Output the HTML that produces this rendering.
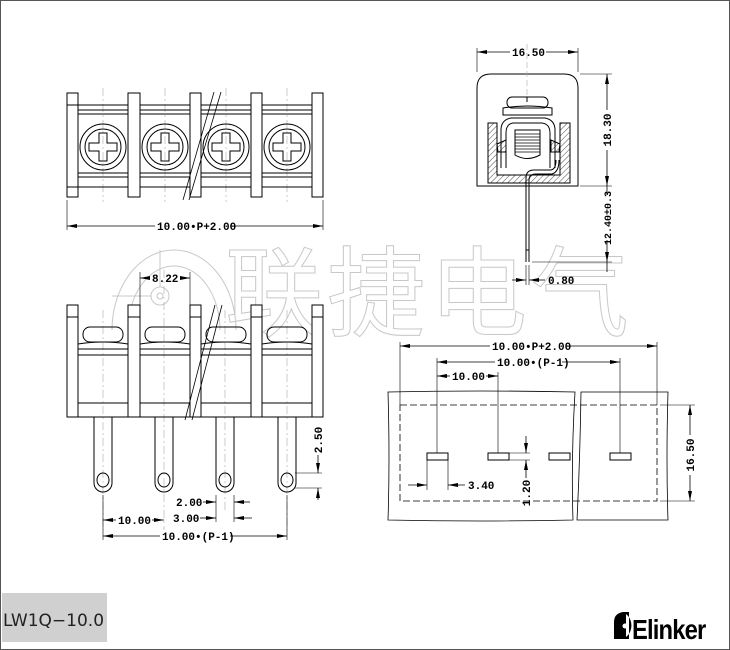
<!DOCTYPE html>
<html><head><meta charset="utf-8"><style>
html,body{margin:0;padding:0;background:#fff}
svg{display:block}
text{font-family:"Liberation Mono",monospace;font-weight:bold;font-size:11px;fill:#000}
</style></head><body>
<svg width="730" height="650" viewBox="0 0 730 650" xmlns="http://www.w3.org/2000/svg">
<defs>
<marker id="a" viewBox="0 0 10 6" refX="10" refY="3" markerWidth="10" markerHeight="6" orient="auto-start-reverse" markerUnits="userSpaceOnUse"><path d="M0,1 L10,3 L0,5 z" fill="#000"/></marker>
<pattern id="h" width="4" height="4" patternUnits="userSpaceOnUse" patternTransform="rotate(45)"><line x1="0" y1="0" x2="0" y2="4" stroke="#000" stroke-width="0.7"/></pattern>
</defs>
<rect x="0.5" y="0.5" width="729" height="649" fill="none" stroke="#555"/>

<!-- watermark -->
<g fill="none" stroke="#c8c8c8" stroke-width="1">
<path d="M112,330 A62,80 0 0 1 236,330"/>
<path d="M128,330 A46,64 0 0 1 220,330"/>
<circle cx="160" cy="296" r="9"/><circle cx="160" cy="296" r="3"/>
<line x1="160" y1="250" x2="160" y2="287"/><line x1="112" y1="296" x2="151" y2="296"/>
</g>
<text x="225" y="328" style="font-family:'Noto Sans CJK SC',sans-serif;font-size:98px;font-weight:normal;fill:none;stroke:#c8c8c8;stroke-width:1;letter-spacing:4px">联捷电气</text>

<g fill="none" stroke="#000" stroke-width="1">
<!-- TOP VIEW -->
<g stroke="#aaa" stroke-dasharray="8,3,2,3" stroke-width="0.6">
<line x1="103" y1="88" x2="103" y2="202"/><line x1="165" y1="88" x2="165" y2="202"/>
<line x1="226" y1="88" x2="226" y2="202"/><line x1="287" y1="88" x2="287" y2="202"/>
</g>
<rect x="78" y="105" width="234" height="82"/>
<line x1="78" y1="110" x2="312" y2="110"/><line x1="78" y1="177" x2="312" y2="177"/>
<line x1="78" y1="114" x2="312" y2="114"/><line x1="78" y1="173" x2="312" y2="173"/>
<g id="scr">
<circle cx="103" cy="147" r="23"/><circle cx="103" cy="147" r="18"/>
<path d="M99,133 h8 v10 h10 v8 h-10 v10 h-8 v-10 h-10 v-8 h10 z"/>
</g>
<use href="#scr" x="62"/><use href="#scr" x="123"/><use href="#scr" x="184"/>
<g fill="#fff">
<rect x="67" y="93" width="11" height="104"/><rect x="128" y="93" width="12" height="104"/>
<rect x="190" y="93" width="11" height="104"/><rect x="251" y="93" width="11" height="104"/>
<rect x="312" y="93" width="11" height="104"/>
</g>
<line x1="67" y1="105" x2="78" y2="105"/><line x1="67" y1="187" x2="78" y2="187"/>
<line x1="214" y1="92" x2="183" y2="200" stroke-width="0.8"/><line x1="221" y1="92" x2="189" y2="200" stroke-width="0.8"/>
<line x1="67" y1="200" x2="67" y2="230" stroke-width="0.6"/><line x1="323" y1="200" x2="323" y2="230" stroke-width="0.6"/>
<line x1="67" y1="226" x2="155" y2="226" marker-start="url(#a)" stroke-width="0.8"/>
<line x1="230" y1="226" x2="323" y2="226" marker-end="url(#a)" stroke-width="0.8"/>

<!-- FRONT VIEW -->
<g stroke="#aaa" stroke-dasharray="8,3,2,3" stroke-width="0.6">
<line x1="103" y1="310" x2="103" y2="530"/><line x1="164" y1="270" x2="164" y2="530"/>
<line x1="225" y1="310" x2="225" y2="510"/><line x1="287" y1="310" x2="287" y2="530"/>
</g>
<rect x="78" y="355" width="234" height="62"/>
<line x1="78" y1="403" x2="312" y2="403"/>
<g id="cap">
<rect x="83" y="327" width="40" height="15" rx="7"/>
<path d="M78,344 Q103,340 128,344 L128,355 M78,349 L128,349"/>
</g>
<use href="#cap" x="62"/><use href="#cap" x="123"/><use href="#cap" x="184"/>
<g fill="#fff">
<rect x="67" y="305" width="11" height="112"/><rect x="128" y="305" width="12" height="112"/>
<rect x="190" y="305" width="11" height="112"/><rect x="251" y="305" width="11" height="112"/>
<rect x="312" y="305" width="11" height="112"/>
</g>
<line x1="67" y1="317" x2="78" y2="317"/><line x1="128" y1="317" x2="140" y2="317"/><line x1="190" y1="317" x2="201" y2="317"/><line x1="251" y1="317" x2="262" y2="317"/><line x1="312" y1="317" x2="323" y2="317"/>
<line x1="215" y1="305" x2="185" y2="420" stroke-width="0.8"/><line x1="222" y1="305" x2="192" y2="420" stroke-width="0.8"/>
<g id="pin">
<path d="M94,417 V483 A9,9 0 0 0 112,483 V417"/>
<ellipse cx="103" cy="480" rx="6" ry="7"/>
</g>
<use href="#pin" x="61"/><use href="#pin" x="122"/><use href="#pin" x="184"/>
<g stroke-width="0.6">
<line x1="140" y1="272" x2="140" y2="330"/><line x1="190" y1="272" x2="190" y2="305"/>
<line x1="295" y1="473" x2="322" y2="473"/><line x1="295" y1="488" x2="322" y2="488"/>
<line x1="216" y1="495" x2="216" y2="522"/><line x1="234" y1="495" x2="234" y2="522"/>
<line x1="103" y1="495" x2="103" y2="540"/><line x1="287" y1="495" x2="287" y2="540"/>
</g>
<line x1="140" y1="278" x2="150" y2="278" marker-start="url(#a)" stroke-width="0.8"/>
<line x1="180" y1="278" x2="190" y2="278" marker-end="url(#a)" stroke-width="0.8"/>
<line x1="318" y1="455" x2="318" y2="473" marker-end="url(#a)" stroke-width="0.8"/>
<line x1="318" y1="488" x2="318" y2="500" marker-start="url(#a)" stroke-width="0.8"/>
<line x1="203" y1="502" x2="216" y2="502" marker-end="url(#a)" stroke-width="0.8"/>
<line x1="234" y1="502" x2="250" y2="502" marker-start="url(#a)" stroke-width="0.8"/>
<line x1="200" y1="518" x2="216" y2="518" marker-end="url(#a)" stroke-width="0.8"/>
<line x1="234" y1="518" x2="252" y2="518" marker-start="url(#a)" stroke-width="0.8"/>
<line x1="103" y1="520" x2="116" y2="520" marker-start="url(#a)" stroke-width="0.8"/>
<line x1="152" y1="520" x2="164" y2="520" marker-end="url(#a)" stroke-width="0.8"/>
<line x1="103" y1="536" x2="160" y2="536" marker-start="url(#a)" stroke-width="0.8"/>
<line x1="230" y1="536" x2="287" y2="536" marker-end="url(#a)" stroke-width="0.8"/>

<!-- SIDE VIEW -->
<path d="M477,186 V88 Q477,74 491,74 H564 Q578,74 578,88 V186 Z"/>
<line x1="527" y1="44" x2="527" y2="96" stroke="#aaa" stroke-width="0.6" stroke-dasharray="6,3"/>
<rect x="507" y="97" width="41" height="11" rx="5"/>
<line x1="527" y1="97" x2="527" y2="102"/>
<path d="M503,108 Q527,104 552,108 V115 H503 Z"/>
<path d="M488,123 H497 V175 H560 V123 H570 V183 H488 Z" fill="url(#h)"/>
<path d="M501,168 V130 Q501,120 511,118 H545 Q555,120 555,130 V168"/>
<path d="M506,168 V133 Q506,124 513,123 H542 Q550,124 550,133 V168"/>
<path d="M515,130 H540 V155 Q527,162 515,155 Z"/>
<g stroke-width="0.8"><line x1="515" y1="134" x2="540" y2="134"/><line x1="515" y1="137" x2="540" y2="137"/><line x1="515" y1="140" x2="540" y2="140"/><line x1="515" y1="143" x2="540" y2="143"/><line x1="515" y1="146" x2="540" y2="146"/><line x1="515" y1="149" x2="540" y2="149"/><line x1="515" y1="152" x2="540" y2="152"/></g>
<path d="M497,144 L506,140 L506,152 L498,152 Z M560,144 L551,140 L551,152 L559,152 Z" fill="url(#h)"/>
<path d="M526,262 V178 Q526,170 534,170 H550 Q556,170 556,160"/>
<path d="M529,262 V180 Q529,174 536,174 H552 Q559,172 559,160"/>
<line x1="526" y1="250" x2="529" y2="250"/>
<g stroke-width="0.6">
<line x1="477" y1="48" x2="477" y2="72"/><line x1="578" y1="48" x2="578" y2="72"/>
<line x1="580" y1="74" x2="612" y2="74"/><line x1="580" y1="186" x2="612" y2="186"/>
<line x1="532" y1="262" x2="612" y2="262"/>
<line x1="526" y1="265" x2="526" y2="285"/><line x1="529" y1="265" x2="529" y2="285"/>
</g>
<line x1="477" y1="52" x2="510" y2="52" marker-start="url(#a)" stroke-width="0.8"/>
<line x1="546" y1="52" x2="578" y2="52" marker-end="url(#a)" stroke-width="0.8"/>
<line x1="607" y1="74" x2="607" y2="110" marker-start="url(#a)" stroke-width="0.8"/>
<line x1="607" y1="150" x2="607" y2="186" marker-end="url(#a)" stroke-width="0.8"/>
<line x1="607" y1="186" x2="607" y2="195" stroke-width="0.8"/>
<line x1="607" y1="240" x2="607" y2="262" marker-end="url(#a)" stroke-width="0.8"/>
<line x1="607" y1="262" x2="607" y2="272" stroke-width="0.8"/>
<line x1="512" y1="280" x2="526" y2="280" marker-end="url(#a)" stroke-width="0.8"/>
<line x1="529" y1="280" x2="545" y2="280" marker-start="url(#a)" stroke-width="0.8"/>

<!-- BOTTOM VIEW -->
<path d="M388,392 Q480,390 575,392 Q571,460 573,520 Q480,522 388,520 Q390,460 388,392 Z" stroke-width="0.8"/>
<path d="M581,392 H668 Q666,460 668,520 H577 Q580,460 581,392 Z" stroke-width="0.8"/>
<rect x="400" y="405" width="257" height="96" stroke-dasharray="7,3" stroke-width="0.8"/>
<rect x="427" y="453" width="21" height="7"/><rect x="488" y="453" width="21" height="7"/>
<rect x="549" y="453" width="21" height="7"/><rect x="610" y="453" width="21" height="7"/>
<g stroke-width="0.6">
<line x1="400" y1="342" x2="400" y2="405"/><line x1="657" y1="342" x2="657" y2="405"/>
<line x1="437" y1="358" x2="437" y2="453"/><line x1="620" y1="358" x2="620" y2="453"/>
<line x1="498" y1="372" x2="498" y2="453"/>
<line x1="427" y1="460" x2="427" y2="490"/><line x1="448" y1="460" x2="448" y2="490"/>
<line x1="509" y1="453" x2="530" y2="453"/><line x1="509" y1="460" x2="530" y2="460"/>
<line x1="660" y1="405" x2="695" y2="405"/><line x1="660" y1="501" x2="695" y2="501"/>
</g>
<line x1="400" y1="346" x2="490" y2="346" marker-start="url(#a)" stroke-width="0.8"/>
<line x1="566" y1="346" x2="657" y2="346" marker-end="url(#a)" stroke-width="0.8"/>
<line x1="437" y1="362" x2="495" y2="362" marker-start="url(#a)" stroke-width="0.8"/>
<line x1="562" y1="362" x2="620" y2="362" marker-end="url(#a)" stroke-width="0.8"/>
<line x1="437" y1="376" x2="450" y2="376" marker-start="url(#a)" stroke-width="0.8"/>
<line x1="486" y1="376" x2="498" y2="376" marker-end="url(#a)" stroke-width="0.8"/>
<line x1="408" y1="485" x2="427" y2="485" marker-end="url(#a)" stroke-width="0.8"/>
<line x1="448" y1="485" x2="465" y2="485" marker-start="url(#a)" stroke-width="0.8"/>
<line x1="526" y1="436" x2="526" y2="453" marker-end="url(#a)" stroke-width="0.8"/>
<line x1="526" y1="460" x2="526" y2="478" marker-start="url(#a)" stroke-width="0.8"/>
<line x1="690" y1="405" x2="690" y2="435" marker-start="url(#a)" stroke-width="0.8"/>
<line x1="690" y1="475" x2="690" y2="501" marker-end="url(#a)" stroke-width="0.8"/>
</g>

<!-- labels -->
<text x="157" y="230">10.00•P+2.00</text>
<text x="152" y="282">8.22</text>
<text x="512" y="56">16.50</text>
<text x="611" y="130" transform="rotate(-90 611 130)" text-anchor="middle">18.30</text>
<text x="611" y="218" transform="rotate(-90 611 218)" text-anchor="middle" style="font-size:10px">12.40±0.3</text>
<text x="548" y="284">0.80</text>
<text x="322" y="440" transform="rotate(-90 322 440)" text-anchor="middle">2.50</text>
<text x="176" y="506">2.00</text>
<text x="173" y="522">3.00</text>
<text x="118" y="524">10.00</text>
<text x="162" y="540">10.00•(P-1)</text>
<text x="492" y="350">10.00•P+2.00</text>
<text x="497" y="366">10.00•(P-1)</text>
<text x="452" y="380">10.00</text>
<text x="468" y="489">3.40</text>
<text x="530" y="493" transform="rotate(-90 530 493)" text-anchor="middle">1.20</text>
<text x="694" y="455" transform="rotate(-90 694 455)" text-anchor="middle">16.50</text>

<!-- footer -->
<rect x="2" y="593" width="105" height="49" fill="#d0d0d0"/>
<text x="3" y="626" style="font-family:'DejaVu Sans',sans-serif;font-weight:normal;font-size:17px;fill:#222">LW1Q−10.0</text>
<g transform="translate(614,612)">
<path d="M0,27 V10 Q0,0 12,0 V27 Z" fill="#000"/>
<path d="M6,0 H15 V27 H6 A11,13 0 0 0 6,0 Z" fill="#000"/>
<circle cx="11" cy="14" r="2.5" fill="#fff"/>
</g>
<text x="632" y="639" style="font-family:'Liberation Sans',sans-serif;font-size:28px;font-weight:bold;letter-spacing:-1px" transform="scale(0.85,1)" transform-origin="632 639">Elinker</text>
</svg>
</body></html>
